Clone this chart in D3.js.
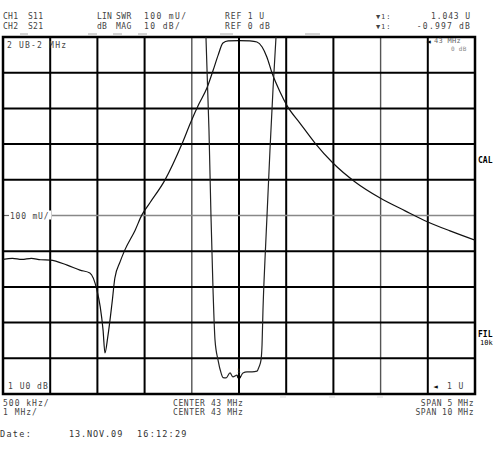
<!DOCTYPE html>
<html><head><meta charset="utf-8">
<script src="https://cdn.jsdelivr.net/npm/d3@7"></script>
<style>
html,body{margin:0;padding:0;background:#fff;}
svg{display:block;}
text{font-family:"DejaVu Sans Mono","Liberation Mono",monospace;}
</style></head>
<body>
<svg id="c" width="500" height="461"></svg>
<script>
// ---- Data ----
// CH2 S21, LOG MAG, 10 dB/div, REF 0 dB, center 43 MHz, span 10 MHz
const s21Freq = [38.00, 38.20, 38.40, 38.60, 38.80, 39.00, 39.36, 39.63, 39.84, 39.99, 40.06, 40.12, 40.16,
  40.22, 40.31, 40.37, 40.48, 40.58, 40.80, 40.94, 41.11, 41.43, 41.79, 41.98, 42.15, 42.32, 42.45, 42.56,
  42.66, 42.77, 43.00, 43.23, 43.38, 43.49, 43.59, 43.70, 43.87, 44.02, 44.29, 44.61, 44.99, 45.46, 45.99,
  46.52, 47.00, 47.47, 48.00];
const s21dB = [-62.3, -62.0, -62.3, -62.0, -62.4, -62.5, -63.9, -65.3, -66.1, -70.9, -75.6, -82.1, -88.5,
  -84.0, -74.5, -67.5, -63.0, -59.7, -54.1, -49.9, -46.5, -40.1, -30.0, -23.8, -18.8, -14.3, -9.4, -5.0,
  -1.7, -1.1, -1.0, -1.1, -1.4, -2.8, -5.6, -10.1, -15.4, -19.3, -24.1, -29.7, -35.3, -40.6, -45.1,
  -48.7, -51.8, -54.3, -56.9];
// CH1 S11, LIN SWR, 100 mU/div, REF 1 U (bottom), center 43 MHz, span 5 MHz
const s11Freq = [42.650, 42.682, 42.703, 42.725, 42.746, 42.778, 42.810, 42.831, 42.862, 42.905, 42.936,
  42.979, 43.000, 43.042, 43.085, 43.138, 43.191, 43.212, 43.233, 43.244, 43.254, 43.275, 43.297, 43.328,
  43.360, 43.392];
const s11Swr = [2.000, 1.739, 1.501, 1.291, 1.151, 1.095, 1.059, 1.046, 1.045, 1.059, 1.048,
  1.053, 1.043, 1.059, 1.062, 1.062, 1.064, 1.076, 1.095, 1.137, 1.235, 1.375, 1.501, 1.683,
  1.852, 2.000];
const markerFreq = 43;
const markerSwr = 1.043;
const markerDb = -0.997;

// ---- Scales ----
const L = 3, R = 475, T = 37, B = 394;
const x21 = d3.scaleLinear().domain([38, 48]).range([L, R]);
const y21 = d3.scaleLinear().domain([-100, 0]).range([B, T]);
const x11 = d3.scaleLinear().domain([40.5, 45.5]).range([L, R]);
const y11 = d3.scaleLinear().domain([1, 2]).range([B, T]);

const svg = d3.select("#c");
svg.append("rect").attr("width", 500).attr("height", 461).attr("fill", "#fff");

const defs = svg.append("defs");
defs.append("clipPath").attr("id", "clip").append("rect")
  .attr("x", L).attr("y", T).attr("width", R - L).attr("height", B - T);

// ---- Grid ----
const g = svg.append("g");
const vTicks = d3.range(38, 49, 1);
const hTicks = d3.range(-100, 1, 10);
g.selectAll("line.v").data(vTicks.slice(1, -1)).join("line")
  .attr("x1", d => x21(d)).attr("x2", d => x21(d)).attr("y1", T).attr("y2", B)
  .attr("stroke", d => (d === 42 || d === 46) ? "#555" : "#000")
  .attr("stroke-width", d => (d === 42 || d === 46) ? 1.4 : 2);
g.selectAll("line.h").data(hTicks.slice(1, -1)).join("line")
  .attr("y1", d => y21(d)).attr("y2", d => y21(d)).attr("x1", d => d === -50 ? 52 : L).attr("x2", R)
  .attr("stroke", d => d === -50 ? "#888" : "#000")
  .attr("stroke-width", d => d === -50 ? 1.3 : 2);
g.append("line").attr("x1", L).attr("x2", 9).attr("y1", y21(-50)).attr("y2", y21(-50))
  .attr("stroke", "#666").attr("stroke-width", 1.2);

// frame
g.append("rect").attr("x", L).attr("y", T).attr("width", R - L).attr("height", B - T)
  .attr("fill", "none").attr("stroke", "#000").attr("stroke-width", 2.5);

// ---- Traces ----
const plot = svg.append("g").attr("clip-path", "url(#clip)");
const line21 = d3.line().x(d => x21(d[0])).y(d => y21(d[1])).curve(d3.curveMonotoneX);
const line11 = d3.line().x(d => x11(d[0])).y(d => y11(d[1])).curve(d3.curveMonotoneX);
plot.append("path").datum(d3.zip(s21Freq, s21dB)).attr("d", line21)
  .attr("fill", "none").attr("stroke", "#111").attr("stroke-width", 1.2);
plot.append("path").datum(d3.zip(s11Freq, s11Swr)).attr("d", line11)
  .attr("fill", "none").attr("stroke", "#222").attr("stroke-width", 1.2);

// markers
const mx = x21(markerFreq);
svg.append("line").attr("x1", mx).attr("x2", mx).attr("y1", T).attr("y2", y21(markerDb) + 2)
  .attr("stroke", "#000").attr("stroke-width", 2);
svg.append("text").attr("x", x11(markerFreq) - 2).attr("y", y11(markerSwr) - 6)
  .attr("font-size", 6).attr("fill", "#333").text("1");
svg.append("path").attr("d", d3.symbol(d3.symbolTriangle, 10)())
  .attr("transform", `translate(${x11(markerFreq)},${y11(markerSwr) - 1}) rotate(180)`).attr("fill", "#000");

// ---- Text ----
const txt = (x, y, s, opt = {}) => svg.append("text").attr("x", x).attr("y", y)
  .attr("font-size", opt.size || 8).attr("fill", opt.fill || "#444")
  .attr("letter-spacing", opt.ls == null ? 0.9 : opt.ls)
  .attr("text-anchor", opt.anchor || "start").attr("font-weight", opt.weight || "normal").text(s);

[[20, 28], [88, 97], [113, 122], [138, 147], [220, 233], [305, 320]].forEach(([a, b]) =>
  svg.append("line").attr("x1", a).attr("x2", b).attr("y1", 34).attr("y2", 34)
    .attr("stroke", "#aaa").attr("stroke-width", 1));
[283, 332, 380].forEach(a => svg.append("line").attr("x1", a - 3).attr("x2", a + 3)
  .attr("y1", 397).attr("y2", 397).attr("stroke", "#ddd").attr("stroke-width", 1));

txt(3, 19, "CH1", {ls: 0.3}); txt(28, 19, "S11", {ls: 0.3});
txt(3, 29, "CH2", {ls: 0.3}); txt(28, 29, "S21", {ls: 0.3});
txt(97, 19, "LIN", {ls: 0.2}); txt(116, 19, "SWR", {ls: 0.4}); txt(144, 19, "100 mU/", {ls: 1.4});
txt(97, 29, "dB", {ls: 0.2}); txt(116, 29, "MAG", {ls: 0.4}); txt(144, 29, "10 dB/", {ls: 1.4});
txt(225, 19, "REF 1 U"); txt(225, 29, "REF 0 dB");
txt(376, 19, "\u25BC1:", {size: 7}); txt(471, 19, "1.043  U", {anchor: "end", ls: 0.9});
txt(376, 29, "\u25BC1:", {size: 7}); txt(471, 29, "-0.997 dB", {anchor: "end", ls: 1.2});

txt(7, 48, "2 UB-2 MHz", {ls: 1.2});
svg.append("rect").attr("x", 9).attr("y", y21(-50) - 5).attr("width", 42).attr("height", 9).attr("fill", "#fff");
txt(10, y21(-50) + 3, "100 mU/", {ls: 0.8});
txt(8, 389, "1 U0 dB", {ls: 1});
txt(433, 389, "\u25C4", {size: 8, fill: "#111"}); txt(447, 389, "1  U");
txt(426, 44, "\u25C4", {size: 8, fill: "#111"});
txt(434, 43, "43 MHz", {size: 7, fill: "#666", ls: 0.3});
txt(451, 51, "0 dB", {size: 6, fill: "#888", ls: 0.3});

txt(478, 163, "CAL", {fill: "#000", weight: "bold", size: 8, ls: 0});
txt(478, 337, "FIL", {fill: "#000", weight: "bold", size: 8, ls: 0});
txt(480, 345, "10k", {fill: "#000", size: 7, ls: 0});

txt(3, 406, "500 kHz/", {ls: 1}); txt(3, 415, "1 MHz/", {ls: 1});
txt(173, 406, "CENTER 43 MHz", {ls: 0.6}); txt(173, 415, "CENTER 43 MHz", {ls: 0.6});
txt(474, 406, "SPAN 5 MHz", {anchor: "end", ls: 0.5}); txt(474, 415, "SPAN 10 MHz", {anchor: "end", ls: 0.5});
txt(0, 437, "Date:", {size: 8.5, fill: "#333", ls: 1.3});
txt(69, 437, "13.NOV.09", {size: 8.5, fill: "#333", ls: 0.9});
txt(137, 437, "16:12:29", {size: 8.5, fill: "#333", ls: 1.2});
</script>
</body></html>
